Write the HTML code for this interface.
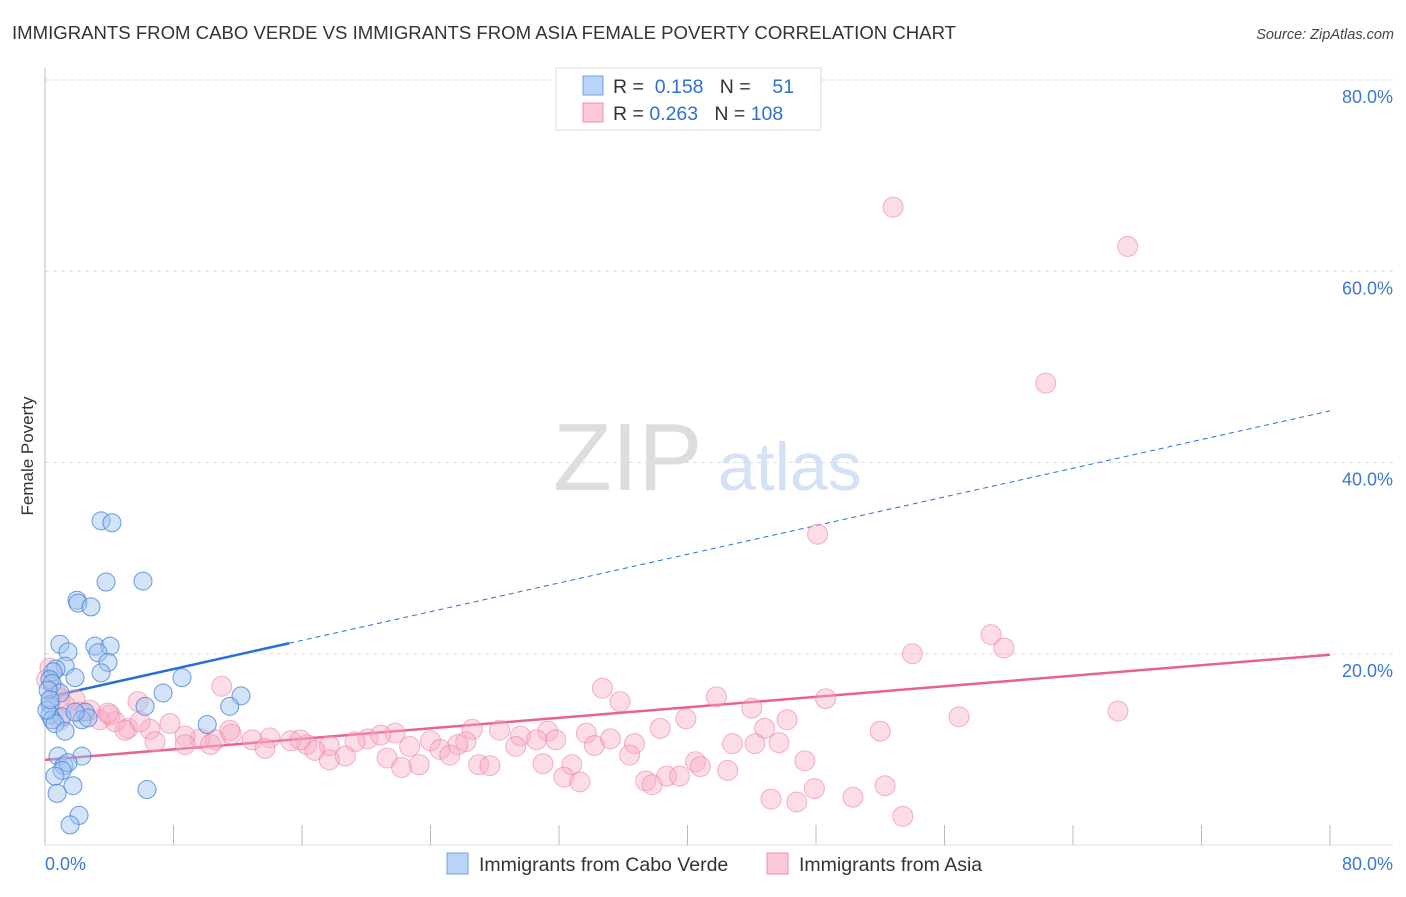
<!DOCTYPE html>
<html><head><meta charset="utf-8"><style>
body{margin:0;background:#fff;width:1406px;height:892px;overflow:hidden;font-family:"Liberation Sans",sans-serif}
svg text{font-family:"Liberation Sans",sans-serif}
</style></head><body>
<svg id="chart" width="1406" height="892" xmlns="http://www.w3.org/2000/svg">
<text x="12" y="39" font-size="18" fill="#333" textLength="944" lengthAdjust="spacingAndGlyphs">IMMIGRANTS FROM CABO VERDE VS IMMIGRANTS FROM ASIA FEMALE POVERTY CORRELATION CHART</text>
<text x="1394" y="39" font-size="14.5" fill="#444" text-anchor="end" font-style="italic">Source: ZipAtlas.com</text>
<g>
<text x="553" y="490" font-size="96" fill="#ddd" font-family="Liberation Serif,serif">ZIP</text>
<text x="718" y="490" font-size="68" fill="#d3e2f5">atlas</text>
</g>
<g id="grid"></g>
<g id="axes"></g>
<g id="trends"></g>
<g id="pts"></g>
<text transform="translate(33,456) rotate(-90)" font-size="17" fill="#333" text-anchor="middle">Female Poverty</text>
<g>
<rect x="556" y="68" width="265" height="62" fill="#fff" stroke="#ddd"/>
<rect x="583" y="76" width="20" height="19" fill="#b9d4f6" stroke="#6f9fe0"/>
<rect x="583" y="103" width="20" height="19" fill="#fcc7d7" stroke="#ee92ad"/>
<text x="613" y="93" font-size="19.5" fill="#333">R = <tspan fill="#2f6fd0">&#160;0.158</tspan>&#160;&#160;&#160;N = <tspan fill="#2f6fd0">&#160;&#160;&#160;51</tspan></text>
<text x="613" y="120" font-size="19.5" fill="#333">R = <tspan fill="#2f6fd0">0.263</tspan>&#160;&#160;&#160;N = <tspan fill="#2f6fd0">108</tspan></text>
</g>
<g>
<rect x="447" y="853" width="21" height="21" fill="#b9d4f6" stroke="#6f9fe0"/>
<text x="479" y="871" font-size="19.5" fill="#333">Immigrants from Cabo Verde</text>
<rect x="767" y="853" width="21" height="21" fill="#fcc7d7" stroke="#ee92ad"/>
<text x="799" y="871" font-size="19.5" fill="#333">Immigrants from Asia</text>
</g>
</svg>
<script>
const yTicks=[20,40,60,80];
const yTickLabels=["20.0%","40.0%","60.0%","80.0%"];
const xTicks=[0,8,16,24,32,40,48,56,64,72,80];
const xTickLabels=["0.0%","80.0%"];
const blueX=[3.49,4.17,3.80,6.10,1.99,2.05,2.86,0.93,1.43,3.11,4.05,3.30,3.92,1.25,0.68,0.50,3.49,1.87,0.31,0.44,8.53,7.35,12.2,0.93,0.31,6.23,11.5,2.49,0.31,1.06,10.1,0.44,0.62,2.30,1.25,0.81,2.30,1.18,1.43,1.06,0.62,1.74,6.35,0.75,2.12,1.56,0.19,0.12,2.68,0.31,1.87];
const blueY=[33.9,33.7,27.5,27.6,25.6,25.3,24.9,21.0,20.2,20.8,20.8,20.1,19.1,18.7,18.4,18.1,18.0,17.5,17.3,16.9,17.5,15.9,15.6,15.9,14.7,14.5,14.5,13.9,13.6,13.4,12.6,13.1,12.7,13.1,11.9,9.3,9.3,8.3,8.6,7.8,7.2,6.2,5.8,5.4,3.1,2.1,16.2,14.1,13.3,15.2,13.9];
const pinkX=[52.8,67.4,62.3,48.1,58.9,59.7,54.0,11.0,5.79,34.7,35.8,41.8,48.6,44.0,66.8,56.9,39.9,46.2,38.3,52.0,44.8,33.7,31.3,28.3,26.6,21.8,20.1,24.0,26.2,29.6,30.6,31.8,35.2,34.2,36.7,42.8,44.2,45.7,29.3,25.7,24.6,22.7,19.3,17.7,16.3,15.3,14.0,12.9,11.6,10.6,9.65,8.72,7.78,6.54,5.17,4.36,3.42,2.80,1.87,0.93,0.31,0.62,1.25,2.18,4.05,4.98,6.85,8.72,10.3,13.7,16.8,18.7,21.3,22.2,23.3,25.2,27.0,27.7,31.0,32.8,36.4,40.5,40.8,42.5,32.3,33.3,37.4,38.7,39.5,37.8,47.3,45.2,46.8,47.9,50.3,52.3,53.4,3.92,5.92,11.5,15.9,20.9,17.7,0.1,0.93];
const pinkY=[66.7,62.6,48.3,32.5,22.0,20.6,20.0,16.6,15.0,16.4,15.0,15.5,15.3,14.3,14.0,13.4,13.2,13.1,12.2,11.9,12.2,11.7,11.9,12.0,12.1,11.7,11.1,10.9,10.8,11.4,11.0,11.0,11.1,10.4,10.6,10.6,10.6,10.7,10.3,10.5,10.0,10.3,10.8,10.4,10.5,10.9,11.2,11.0,11.6,11.0,11.1,11.4,12.7,12.1,12.2,12.9,13.1,14.1,15.2,15.4,18.5,16.2,14.6,13.9,13.6,12.0,10.8,10.5,10.5,10.1,9.9,9.3,9.1,8.1,8.4,9.4,8.4,8.3,8.5,8.4,9.4,8.7,8.2,7.8,7.1,6.6,6.7,7.2,7.2,6.3,8.8,4.8,4.5,5.9,5.0,6.2,3.0,13.8,12.9,12.0,11.0,11.5,8.9,17.3,13.1];
const blueTrend=[15.4,0.375];
const pinkTrend=[8.9,0.1375];
const NS="http://www.w3.org/2000/svg";
const X0=45,X1=1330,Y0=845,YT=80;
const sx=v=>X0+(X1-X0)*v/80;
const sy=v=>Y0-(Y0-YT)*v/80;
function mk(tag,attrs,parent){const e=document.createElementNS(NS,tag);for(const k in attrs)e.setAttribute(k,attrs[k]);parent.appendChild(e);return e;}
const grid=document.getElementById('grid'),axes=document.getElementById('axes'),trends=document.getElementById('trends'),pts=document.getElementById('pts');
yTicks.forEach((t,i)=>{
 const l=mk('line',{x1:X0,x2:1393,y1:sy(t),y2:sy(t),stroke:'#ddd','stroke-dasharray':'4,4'},grid);
 
 
 const tx=mk('text',{x:1393,y:sy(t)+23,'font-size':18,fill:'#3a78d4','text-anchor':'end'},axes);
 tx.textContent=yTickLabels[i];
 
 
});
const ax=mk('line',{x1:X0,x2:X0,y1:68,y2:Y0,stroke:'#bbb'},axes);


const bx=mk('line',{x1:X0,x2:1393,y1:Y0,y2:Y0,stroke:'#ddd'},axes);


xTicks.forEach(t=>{
 const l=mk('line',{x1:sx(t),x2:sx(t),y1:825,y2:Y0,stroke:'#bbb'},axes);
 
 
});
const xl0=mk('text',{x:X0,y:870,'font-size':18,fill:'#3a78d4','text-anchor':'start'},axes);
xl0.textContent=xTickLabels[0];


const xl1=mk('text',{x:1393,y:870,'font-size':18,fill:'#3a78d4','text-anchor':'end'},axes);
xl1.textContent=xTickLabels[1];


pinkX.forEach((x,i)=>{
 const c=mk('circle',{cx:sx(x),cy:sy(pinkY[i]),r:10,fill:'rgba(248,170,195,0.4)',stroke:'rgba(235,130,165,0.6)','stroke-width':1},pts);
 
 
});
blueX.forEach((x,i)=>{
 const c=mk('circle',{cx:sx(x),cy:sy(blueY[i]),r:9,fill:'rgba(160,195,240,0.45)',stroke:'rgba(70,130,220,0.8)','stroke-width':1},pts);
 
 
});
const bMax=Math.max(...blueX)+3;
const b1=mk('line',{x1:sx(0),y1:sy(blueTrend[0]),x2:sx(bMax),y2:sy(blueTrend[0]+blueTrend[1]*bMax),stroke:'#2a6fd6','stroke-width':2.5},trends);


const b2=mk('line',{x1:sx(bMax),y1:sy(blueTrend[0]+blueTrend[1]*bMax),x2:sx(80),y2:sy(blueTrend[0]+blueTrend[1]*80),stroke:'#2a6fd6','stroke-width':1,'stroke-dasharray':'5,4'},trends);


const p1=mk('line',{x1:sx(0),y1:sy(pinkTrend[0]),x2:sx(80),y2:sy(pinkTrend[0]+pinkTrend[1]*80),stroke:'#e8628e','stroke-width':2.5},trends);


</script>
</body></html>
